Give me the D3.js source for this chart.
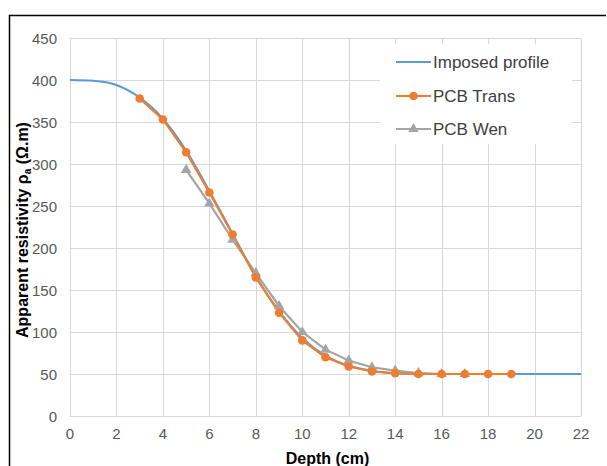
<!DOCTYPE html>
<meta charset="utf-8">
<style>
body { margin: 0; background: #fff; }
svg { display: block; font-family: "Liberation Sans", Arial, sans-serif; }
.grid line { stroke: #d9d9d9; stroke-width: 1; }
.tick-label { fill: #595959; font-size: 15px; }
.axis-title { fill: #000; font-size: 16px; font-weight: bold; }
.legend text { fill: #404040; font-size: 17px; }
</style>
<body>
<script src="https://d3js.org/d3.v7.min.js"></script>
<script>

var width = 607,
    height = 466;

// data
var imposedDepth = [0, 1, 2, 3, 4, 5, 6, 7, 8, 9, 10, 11, 12, 13, 14, 15, 16, 17, 18, 19, 20, 21, 22];
var imposedRho   = [400, 399, 394, 379, 354, 316, 268, 217, 166, 125, 93, 72, 60, 54, 51, 50.5, 50, 50, 50, 50, 50, 50, 50];

var transDepth = [3, 4, 5, 6, 7, 8, 9, 10, 11, 12, 13, 14, 15, 16, 17, 18, 19];
var transRho   = [378, 353, 314, 266, 216, 165, 123, 90, 70, 59, 53, 51, 50, 50, 50, 50, 50];

var wenDepth = [5, 6, 7, 8, 9, 10, 11, 12, 13, 14, 15, 16, 17];
var wenRho   = [293, 253, 210, 170, 131, 100, 79, 66, 58, 54, 51, 50, 50];

var xTicks = d3.range(0, 23, 2);
var yTicks = d3.range(0, 451, 50);

var seriesNames = ["Imposed profile", "PCB Trans", "PCB Wen"];
var seriesColors = ["#5b9bd5", "#ed7d31", "#a5a5a5"];

var margin = { top: 38, right: 26, bottom: 50, left: 70 };

var svg = d3.select("body").append("svg")
    .attr("width", width)
    .attr("height", height);

// chart frame (cropped at right and bottom)
svg.append("path")
    .attr("d", "M9.5," + (height + 2) + "V15.5H" + (width - 1))
    .attr("fill", "none")
    .attr("stroke", "#000")
    .attr("stroke-width", 1.5);

var x = d3.scaleLinear().domain([0, 22]).range([margin.left, width - margin.right]);
var y = d3.scaleLinear().domain([0, 450]).range([height - margin.bottom, margin.top]);

var grid = svg.append("g").attr("class", "grid");
grid.selectAll(".gx").data(xTicks).enter().append("line")
    .attr("x1", function(d) { return Math.round(x(d)) + 0.5; })
    .attr("x2", function(d) { return Math.round(x(d)) + 0.5; })
    .attr("y1", y(0)).attr("y2", y(450));
grid.selectAll(".gy").data(yTicks).enter().append("line")
    .attr("x1", x(0)).attr("x2", x(22))
    .attr("y1", function(d) { return Math.round(y(d)) + 0.5; })
    .attr("y2", function(d) { return Math.round(y(d)) + 0.5; });

svg.append("g").selectAll("text").data(yTicks).enter().append("text")
    .attr("class", "tick-label")
    .attr("x", x(0) - 13)
    .attr("y", function(d) { return y(d) + 6; })
    .attr("text-anchor", "end")
    .text(function(d) { return d; });

svg.append("g").selectAll("text").data(xTicks).enter().append("text")
    .attr("class", "tick-label")
    .attr("x", function(d) { return x(d); })
    .attr("y", y(0) + 23)
    .attr("text-anchor", "middle")
    .text(function(d) { return d; });

// axis titles
svg.append("text")
    .attr("class", "axis-title")
    .attr("x", (x(0) + x(22)) / 2 + 2)
    .attr("y", 464)
    .attr("text-anchor", "middle")
    .text("Depth (cm)");

var yt = svg.append("text")
    .attr("class", "axis-title")
    .attr("transform", "translate(28," + ((y(0) + y(450)) / 2 + 3) + ") rotate(-90)")
    .attr("text-anchor", "middle");
yt.append("tspan").text("Apparent resistivity ρ");
yt.append("tspan").attr("font-size", "10px").attr("dy", 3).text("a");
yt.append("tspan").attr("dy", -3).text(" (Ω.m)");

// legend background covers gridlines
var lg = svg.append("g").attr("class", "legend");
lg.append("rect")
    .attr("x", 380).attr("y", 44).attr("width", 192).attr("height", 100)
    .attr("fill", "#fff");

var line = d3.line()
    .x(function(d) { return x(d[0]); })
    .y(function(d) { return y(d[1]); });

var imposed = d3.zip(imposedDepth, imposedRho);
var trans = d3.zip(transDepth, transRho);
var wen = d3.zip(wenDepth, wenRho);

var lineCurve = d3.line()
    .x(function(d) { return x(d[0]); })
    .y(function(d) { return y(d[1]); })
    .curve(d3.curveMonotoneX);

svg.append("path").datum(imposed)
    .attr("d", lineCurve)
    .attr("fill", "none")
    .attr("stroke", seriesColors[0])
    .attr("stroke-width", 2);

svg.append("path").datum(wen)
    .attr("d", line)
    .attr("fill", "none")
    .attr("stroke", seriesColors[2])
    .attr("stroke-width", 2.2);

svg.append("path").datum(trans)
    .attr("d", line)
    .attr("fill", "none")
    .attr("stroke", seriesColors[1])
    .attr("stroke-width", 2.2);

var tri = d3.symbol().type(d3.symbolTriangle).size(48);

svg.append("g").selectAll("path").data(wen).enter().append("path")
    .attr("d", tri)
    .attr("transform", function(d) { return "translate(" + x(d[0]) + "," + y(d[1]) + ")"; })
    .attr("fill", seriesColors[2]);

svg.append("g").selectAll("circle").data(trans).enter().append("circle")
    .attr("cx", function(d) { return x(d[0]); })
    .attr("cy", function(d) { return y(d[1]); })
    .attr("r", 4.3)
    .attr("fill", seriesColors[1]);

// legend entries
var legY = [62, 96, 129];
seriesNames.forEach(function(name, i) {
    var g = lg.append("g").attr("transform", "translate(396," + legY[i] + ")");
    g.append("line")
        .attr("x1", 0).attr("x2", 35)
        .attr("stroke", seriesColors[i])
        .attr("stroke-width", 2);
    if (i === 1) {
        g.append("circle").attr("cx", 17.5).attr("r", 4.3).attr("fill", seriesColors[1]);
    }
    if (i === 2) {
        g.append("path").attr("d", tri).attr("transform", "translate(17.5,0)").attr("fill", seriesColors[2]);
    }
    g.append("text")
        .attr("x", 37)
        .attr("y", 6)
        .text(name);
});

</script>
</body>
